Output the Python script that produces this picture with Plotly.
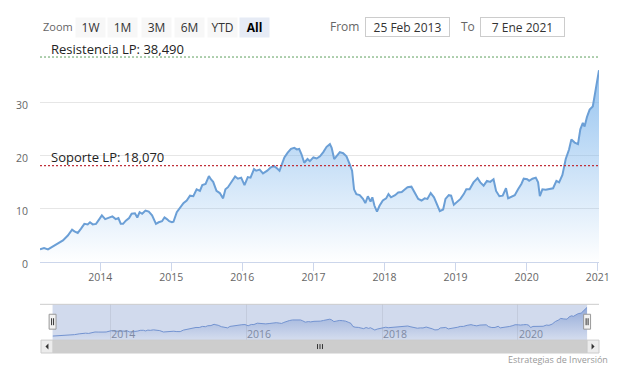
import plotly.graph_objects as go

# ---------------- data ----------------
fechas = [
    "2013-02-25", "2013-03-18", "2013-04-07", "2013-05-02", "2013-05-28", "2013-06-23",
    "2013-07-18", "2013-08-09", "2013-08-21", "2013-09-07", "2013-09-24", "2013-10-11",
    "2013-10-28", "2013-11-09", "2013-11-23", "2013-12-10", "2013-12-27", "2014-01-09",
    "2014-01-26", "2014-02-15", "2014-03-04", "2014-03-21", "2014-04-04", "2014-04-16",
    "2014-04-28", "2014-05-12", "2014-05-29", "2014-06-11", "2014-06-28", "2014-07-10",
    "2014-07-22", "2014-08-04", "2014-08-21", "2014-09-07", "2014-09-24", "2014-10-14",
    "2014-10-28", "2014-11-14", "2014-11-27", "2014-12-09", "2014-12-21", "2015-01-04",
    "2015-01-12", "2015-01-29", "2015-02-15", "2015-03-04", "2015-03-21", "2015-04-07",
    "2015-04-24", "2015-05-11", "2015-05-28", "2015-06-09", "2015-06-26", "2015-07-13",
    "2015-07-23", "2015-08-04", "2015-08-21", "2015-09-07", "2015-09-24", "2015-10-06",
    "2015-10-19", "2015-11-05", "2015-11-25", "2015-12-09", "2015-12-26", "2016-01-12",
    "2016-01-29", "2016-02-12", "2016-03-01", "2016-03-12", "2016-03-30", "2016-04-16",
    "2016-05-08", "2016-05-25", "2016-06-11", "2016-06-28", "2016-07-10", "2016-07-22",
    "2016-08-04", "2016-08-21", "2016-09-07", "2016-09-24", "2016-10-07", "2016-10-19",
    "2016-10-31", "2016-11-14", "2016-12-01", "2016-12-13", "2016-12-31", "2017-01-17",
    "2017-02-03", "2017-02-20", "2017-03-09", "2017-03-26", "2017-04-04", "2017-04-17",
    "2017-04-29", "2017-05-16", "2017-06-02", "2017-06-19", "2017-07-06", "2017-07-18",
    "2017-07-28", "2017-08-09", "2017-08-26", "2017-09-12", "2017-09-24", "2017-10-07",
    "2017-10-21", "2017-10-30", "2017-11-10", "2017-11-23", "2017-12-06", "2017-12-23",
    "2018-01-09", "2018-01-21", "2018-02-03", "2018-02-24", "2018-03-12", "2018-03-30",
    "2018-04-16", "2018-04-29", "2018-05-19", "2018-06-05", "2018-06-23", "2018-07-10",
    "2018-07-26", "2018-08-09", "2018-08-26", "2018-09-12", "2018-09-28", "2018-10-12",
    "2018-10-29", "2018-11-10", "2018-11-27", "2018-12-09", "2018-12-23", "2019-01-09",
    "2019-01-26", "2019-02-12", "2019-02-25", "2019-03-14", "2019-04-03", "2019-04-24",
    "2019-05-08", "2019-05-25", "2019-06-11", "2019-06-28", "2019-07-15", "2019-07-28",
    "2019-08-14", "2019-08-31", "2019-09-17", "2019-09-28", "2019-10-16", "2019-11-01",
    "2019-11-18", "2019-12-05", "2019-12-17", "2020-01-04", "2020-01-14", "2020-01-31",
    "2020-02-17", "2020-02-29", "2020-03-09", "2020-03-22", "2020-04-08", "2020-04-29",
    "2020-05-16", "2020-06-02", "2020-06-16", "2020-07-03", "2020-07-20", "2020-08-06",
    "2020-08-18", "2020-09-04", "2020-09-21", "2020-10-03", "2020-10-16", "2020-10-25",
    "2020-11-06", "2020-11-20", "2020-12-06", "2020-12-15", "2020-12-23", "2021-01-07",
]
precios = [
    2.3, 2.55, 2.3, 2.9, 3.4, 4.0,
    4.9, 6.0, 5.7, 5.4, 6.2, 7.1,
    7.0, 7.4, 7.0, 7.1, 8.0, 8.7,
    8.0, 8.2, 8.5, 8.0, 8.2, 7.1,
    7.1, 7.7, 8.2, 9.0, 9.1, 8.3,
    9.3, 9.0, 9.6, 9.4, 8.7, 7.1,
    7.4, 7.6, 8.3, 8.0, 7.6, 7.4,
    7.5, 9.3, 10.2, 11.0, 11.5, 12.4,
    12.3, 13.6, 13.3, 14.4, 14.6, 16.1,
    15.5, 15.0, 13.3, 12.9, 11.9, 13.6,
    14.0, 14.9, 16.0, 15.6, 15.8, 14.4,
    15.9, 15.8, 17.4, 17.1, 17.3, 16.6,
    17.1, 17.7, 18.0, 17.5, 17.1, 18.3,
    19.6, 20.5, 21.2, 21.4, 21.1, 21.2,
    20.2, 18.6, 19.3, 18.9, 19.6, 19.4,
    19.8, 20.6, 21.6, 22.1, 21.4, 19.3,
    19.8, 20.6, 20.4, 19.8, 18.3, 17.1,
    13.6, 12.7, 12.5, 11.8, 11.0, 12.3,
    11.3, 12.1, 10.5, 9.4, 10.5, 11.5,
    11.9, 12.7, 12.1, 12.5, 13.0, 13.1,
    13.6, 14.0, 14.1, 13.1, 11.8, 11.5,
    11.9, 11.8, 12.9, 12.1, 10.8, 9.5,
    9.8, 11.8, 12.5, 12.4, 10.7, 11.2,
    11.8, 12.7, 13.6, 13.6, 14.9, 15.7,
    14.9, 14.3, 15.2, 15.0, 15.5, 13.3,
    12.3, 12.4, 13.8, 11.9, 12.3, 12.5,
    13.6, 14.6, 15.6, 15.5, 15.2, 15.6,
    15.8, 14.9, 12.3, 13.6, 13.5, 13.6,
    13.8, 15.2, 14.9, 16.3, 19.3, 21.1,
    23.0, 22.4, 22.1, 24.9, 26.1, 25.4,
    27.2, 28.6, 29.2, 31.1, 33.0, 36.0,
]

resistencia = 38.49
soporte = 18.07
resistencia_label = "Resistencia LP: 38,490"
soporte_label = "Soporte LP: 18,070"

y_tickvals = [0, 10, 20, 30, 40]
y_ticktext = ["0", "10", "20", "30", ""]
x_tickvals = ["2014-01-01", "2015-01-01", "2016-01-01", "2017-01-01",
              "2018-01-01", "2019-01-01", "2020-01-01", "2021-01-01"]
x_ticktext = ["2014", "2015", "2016", "2017", "2018", "2019", "2020", "2021"]
nav_tickvals = ["2014-01-01", "2016-01-01", "2018-01-01", "2020-01-01"]
nav_ticktext = ["2014", "2016", "2018", "2020"]

zoom_label = "Zoom"
zoom_buttons = ["1W", "1M", "3M", "6M", "YTD", "All"]
from_label, to_label = "From", "To"
from_text = "25 Feb 2013"
to_text = "7 Ene 2021"
credits = "Estrategias de Inversión"
x_start, x_end = "2013-02-25", "2021-01-07"

# ---------------- layout helpers (pixel -> paper) ----------------
W, H = 622, 376
PL, PR, PT, PB = 40, 604, 49, 356


def px(x):
    return (x - PL) / (PR - PL)


def py(y):
    return (PB - y) / (PB - PT)


FONT = "Open Sans, DejaVu Sans, sans-serif"

fig = go.Figure()

fig.add_trace(go.Scatter(
    x=fechas, y=precios, mode="lines",
    line=dict(color="#6b9fd6", width=2),
    fill="tozeroy",
    fillgradient=dict(type="vertical",
                      colorscale=[[0, "rgba(124,181,236,0.0)"], [1, "rgba(124,181,236,0.9)"]],
                      start=0, stop=40),
    hoverinfo="skip", xaxis="x", yaxis="y",
))

fig.add_trace(go.Scatter(
    x=fechas, y=precios, mode="lines",
    line=dict(color="#7393d0", width=1),
    fill="tozeroy",
    fillgradient=dict(type="vertical",
                      colorscale=[[0, "rgba(70,110,190,0.0)"], [1, "rgba(70,110,190,0.45)"]],
                      start=0, stop=36),
    hoverinfo="skip", xaxis="x2", yaxis="y2",
))

tickfont = dict(family=FONT, size=10.5, color="#666666")

fig.update_layout(
    width=W, height=H,
    margin=dict(l=PL, r=W - PR, t=PT, b=H - PB),
    paper_bgcolor="white", plot_bgcolor="white",
    showlegend=False, hovermode=False,
    font=dict(family=FONT, color="#333333"),
    xaxis=dict(
        domain=[0, 1], range=[x_start, x_end], type="date",
        tickvals=x_tickvals, ticktext=x_ticktext, tickfont=tickfont,
        showgrid=False, showline=True, linecolor="#ccd6eb", linewidth=1,
        ticks="outside", ticklen=8, tickcolor="#ccd6eb", ticklabelstandoff=-2,
        zeroline=False, fixedrange=True, anchor="y",
    ),
    yaxis=dict(
        domain=[py(263), 1], range=[0, 40],
        tickvals=y_tickvals, ticktext=y_ticktext, tickfont=tickfont,
        showgrid=True, gridcolor="#e6e6e6", gridwidth=1,
        zeroline=False, showline=False, ticks="",
        ticklabelshift=3, ticklabelstandoff=11, fixedrange=True, anchor="x",
    ),
    xaxis2=dict(
        domain=[px(52.7), px(592)], range=[x_start, x_end], type="date",
        tickvals=nav_tickvals, ticktext=nav_ticktext,
        tickfont=dict(family=FONT, size=10.5, color="#7f8aa3"),
        ticklabelposition="inside right", ticklabelstandoff=-6, ticklabelshift=1,
        showgrid=True, gridcolor="#c3cbdd", gridwidth=1,
        showline=False, ticks="", zeroline=False, fixedrange=True, anchor="y2",
    ),
    yaxis2=dict(
        domain=[py(342), py(306)], range=[-2.4, 39.5],
        showgrid=False, showticklabels=False, zeroline=False, ticks="",
        fixedrange=True, anchor="x2",
    ),
)

shapes = []
# navigator selected area (mask)
shapes.append(dict(type="rect", xref="x2 domain", yref="y2 domain", x0=0, x1=1, y0=0, y1=1,
                   fillcolor="rgba(102,133,194,0.3)", line=dict(width=0), layer="below"))
# navigator outline top
shapes.append(dict(type="line", xref="paper", yref="paper", x0=px(40), x1=px(604),
                   y0=py(306), y1=py(306), line=dict(color="#cccccc", width=1)))
# plot lines
shapes.append(dict(type="line", xref="paper", yref="y", x0=0, x1=1, y0=resistencia, y1=resistencia,
                   line=dict(color="#5e9f5e", width=1, dash="2px,2px")))
shapes.append(dict(type="line", xref="paper", yref="y", x0=0, x1=1, y0=soporte, y1=soporte,
                   line=dict(color="#c0303a", width=1.2, dash="2px,2px")))

# navigator handles
for cx in (52.7, 592):
    shapes.append(dict(type="rect", xref="paper", yref="paper",
                       x0=px(cx - 3.5), x1=px(cx + 3.5), y0=py(331), y1=py(316),
                       fillcolor="#f2f2f2", line=dict(color="#999999", width=1)))
    for dx in (-1, 1):
        shapes.append(dict(type="line", xref="paper", yref="paper",
                           x0=px(cx + dx), x1=px(cx + dx), y0=py(320), y1=py(327),
                           line=dict(color="#333333", width=1)))

# scrollbar
shapes.append(dict(type="rect", xref="paper", yref="paper", x0=px(53), x1=px(592),
                   y0=py(355), y1=py(342), fillcolor="#cdcdcd", line=dict(color="#cccccc", width=1)))
for x0, x1 in ((41, 53), (592, 604)):
    shapes.append(dict(type="rect", xref="paper", yref="paper", x0=px(x0), x1=px(x1),
                       y0=py(355), y1=py(342), fillcolor="#ececec", line=dict(color="#cccccc", width=1)))
shapes.append(dict(type="path", xref="paper", yref="paper",
                   path=f"M {px(48.5)} {py(345.5)} L {px(45.5)} {py(348.5)} L {px(48.5)} {py(351.5)} Z",
                   fillcolor="#333333", line=dict(width=0)))
shapes.append(dict(type="path", xref="paper", yref="paper",
                   path=f"M {px(596.5)} {py(345.5)} L {px(599.5)} {py(348.5)} L {px(596.5)} {py(351.5)} Z",
                   fillcolor="#333333", line=dict(width=0)))
for gx in (320, 322.5, 325):
    shapes.append(dict(type="line", xref="paper", yref="paper", x0=px(gx), x1=px(gx),
                       y0=py(346), y1=py(351), line=dict(color="#333333", width=1)))

fig.update_layout(shapes=shapes)

ann = []
ann.append(dict(text=zoom_label, xref="paper", yref="paper", x=px(41), y=py(26.5),
                xanchor="left", yanchor="middle", showarrow=False,
                font=dict(family=FONT, size=11, color="#666666")))
bx = [75, 108, 142, 175, 208, 241]
for i, (lbl, x0) in enumerate(zip(zoom_buttons, bx)):
    sel = lbl == "All"
    ann.append(dict(text=f"<b>{lbl}</b>" if sel else lbl, xref="paper", yref="paper",
                    x=px(x0), y=py(17), xanchor="left", yanchor="top",
                    width=29, height=19, borderpad=0, showarrow=False, align="center", valign="middle",
                    bgcolor="#e6ebf5" if sel else "#f7f7f7",
                    font=dict(family=FONT, size=12, color="#000000" if sel else "#333333")))
ann.append(dict(text=from_label, xref="paper", yref="paper", x=px(364), y=py(26.5),
                xanchor="right", yanchor="middle", showarrow=False,
                font=dict(family=FONT, size=12, color="#666666")))
ann.append(dict(text=to_label, xref="paper", yref="paper", x=px(481), y=py(26.5),
                xanchor="right", yanchor="middle", showarrow=False,
                font=dict(family=FONT, size=12, color="#666666")))
for txt, x0 in ((from_text, 368), (to_text, 484)):
    ann.append(dict(text=txt, xref="paper", yref="paper", x=px(x0), y=py(17),
                    xanchor="left", yanchor="top", width=83, height=18, borderpad=0,
                    bordercolor="#cccccc", borderwidth=1, bgcolor="white", showarrow=False,
                    align="center", valign="middle",
                    font=dict(family=FONT, size=12, color="#333333")))
ann.append(dict(text=resistencia_label, xref="paper", yref="y", x=px(49), y=resistencia,
                xanchor="left", yanchor="bottom", yshift=-2.5, showarrow=False,
                font=dict(family=FONT, size=13, color="#222222")))
ann.append(dict(text=soporte_label, xref="paper", yref="y", x=px(49), y=soporte,
                xanchor="left", yanchor="bottom", yshift=-2.5, showarrow=False,
                font=dict(family=FONT, size=13, color="#222222")))
ann.append(dict(text=credits, xref="paper", yref="paper", x=px(615), y=py(362),
                xanchor="right", yanchor="middle", showarrow=False,
                font=dict(family=FONT, size=9, color="#999999")))
fig.update_layout(annotations=ann)

fig.write_html("out.html", config={"displayModeBar": False},
               post_script="document.body.style.margin='0';document.body.style.overflow='hidden';")
